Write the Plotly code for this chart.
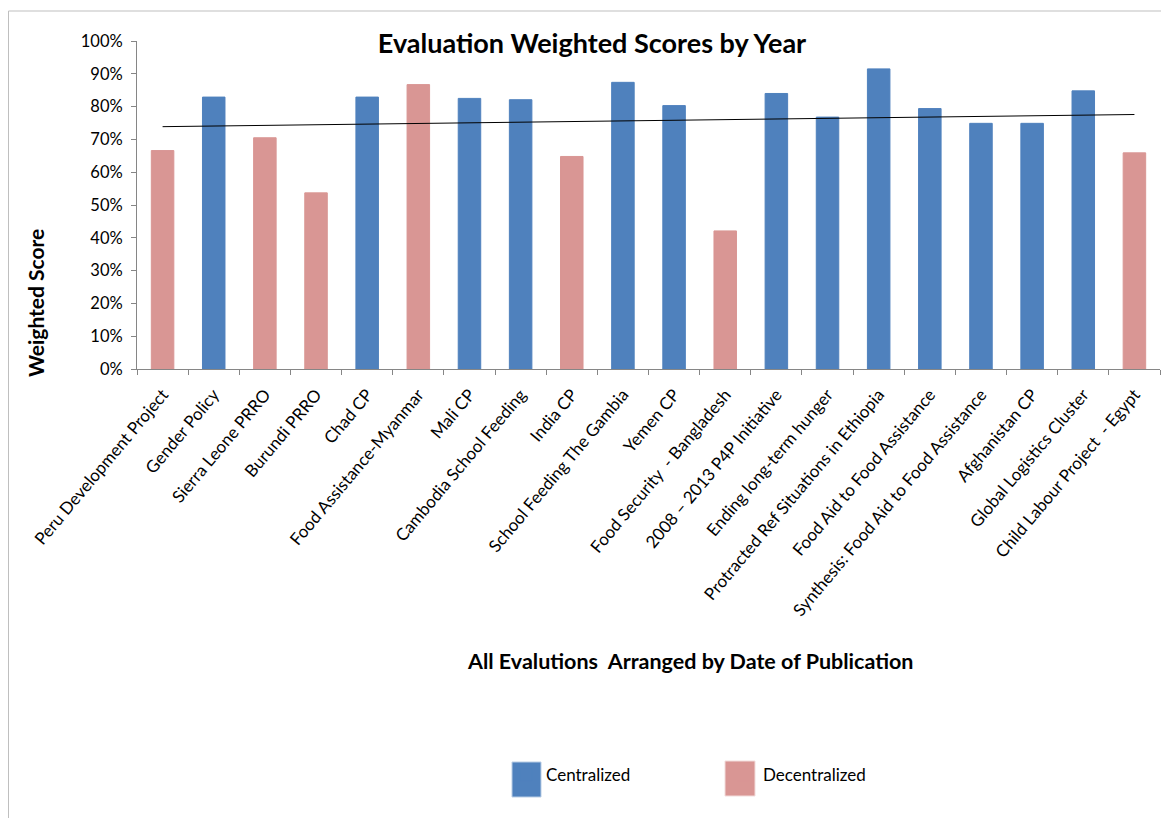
import numpy as np
import plotly.graph_objects as go

categories = [
    "Peru Development Project", "Gender Policy", "Sierra Leone PRRO", "Burundi PRRO",
    "Chad CP", "Food Assistance-Myanmar", "Mali CP", "Cambodia School Feeding",
    "India CP", "School Feeding The Gambia", "Yemen CP", "Food Security\u00a0 - Bangladesh",
    "2008 \u2013 2013 P4P Initiative", "Ending long-term hunger",
    "Protracted Ref Situations in Ethiopia", "Food Aid to Food Assistance",
    "Synthesis: Food Aid to Food Assistance", "Afghanistan CP",
    "Global Logistics Cluster", "Child Labour Project\u00a0 - Egypt",
]
scores = [0.666, 0.829, 0.705, 0.537, 0.829, 0.867, 0.825, 0.821, 0.648, 0.874,
          0.803, 0.421, 0.840, 0.768, 0.915, 0.794, 0.749, 0.749, 0.848, 0.659]
types = ["D", "C", "D", "D", "C", "D", "C", "C", "D", "C",
         "C", "D", "C", "C", "C", "C", "C", "C", "C", "D"]
series_names = ["Centralized", "Decentralized"]

BLUE = "#4F81BD"
PINK = "#D99694"
FONT = "Lato, 'Open Sans', sans-serif"

cent_vals = [v if t == "C" else None for v, t in zip(scores, types)]
dec_vals = [v if t == "D" else None for v, t in zip(scores, types)]

idx = np.arange(len(scores))
slope, intercept = np.polyfit(idx, scores, 1)
trend_x = [categories[0], categories[-1]]
trend_y = [intercept, intercept + slope * (len(scores) - 1)]

# page body has an 8px margin; figure coordinates = reference pixels - 8
W, H = 1161, 810
PL, PR, PT, PB = 137, 1160, 41, 369  # plot area in reference pixels


def px(x):
    return (x - PL) / (PR - PL)


def py(y):
    return (PB - y) / (PB - PT)


fig = go.Figure()
fig.add_trace(go.Bar(x=categories, y=cent_vals, name=series_names[0], width=0.44,
                     marker=dict(color=BLUE, line=dict(color=BLUE, width=1))))
fig.add_trace(go.Bar(x=categories, y=dec_vals, name=series_names[1], width=0.44,
                     marker=dict(color=PINK, line=dict(color=PINK, width=1))))
fig.add_trace(go.Scatter(x=trend_x, y=trend_y, mode="lines", showlegend=False,
                         line=dict(color="#000000", width=1), hoverinfo="skip"))

fig.update_layout(
    width=W, height=H,
    margin=dict(l=PL - 8, r=W - (PR - 8), t=PT - 8, b=H - (PB - 8)),
    paper_bgcolor="white", plot_bgcolor="white",
    barmode="overlay",
    font=dict(family=FONT, size=15, color="#000000"),
    title=dict(text="<b>Evaluation Weighted Scores by Year</b>",
               x=(592 - 8) / W, xref="container", xanchor="center",
               y=1 - (44 - 8) / H, yref="container", yanchor="middle",
               font=dict(family=FONT, size=27, color="#000000")),
    showlegend=True,
    legend=dict(orientation="h", x=px(506), xanchor="left",
                y=py(775), yanchor="middle", bgcolor="rgba(0,0,0,0)",
                entrywidth=172, entrywidthmode="pixels",
                font=dict(family=FONT, size=17), traceorder="normal"),
)
fig.update_xaxes(type="category", tickangle=-50, tickson="boundaries",
                 ticks="outside", ticklen=5, tickcolor="#868686",
                 showline=True, linecolor="#868686", linewidth=1,
                 showgrid=False, tickfont=dict(family=FONT, size=17),
                 ticklabelstandoff=8,
                 range=[-0.5, len(categories) - 0.5])
fig.update_yaxes(range=[0, 1], dtick=0.1, tickformat=".0%",
                 ticks="outside", ticklen=5, tickcolor="#868686",
                 showline=True, linecolor="#868686", linewidth=1,
                 showgrid=False, zeroline=False, ticklabelstandoff=5,
                 tickfont=dict(family=FONT, size=16.5))

fig.add_annotation(text="<b>Weighted Score</b>", xref="paper", yref="paper",
                   x=px(35), y=py(303), textangle=-90,
                   showarrow=False, font=dict(family=FONT, size=21, color="#000000"),
                   xanchor="center", yanchor="middle")
fig.add_annotation(text="<b>All Evalutions\u00a0 Arranged by Date of Publication</b>",
                   xref="paper", yref="paper",
                   x=px(690), y=py(661),
                   showarrow=False, font=dict(family=FONT, size=21.5, color="#000000"),
                   xanchor="center", yanchor="middle")

# larger legend swatches, as in the reference
for (x0, x1, y0, y1), col, edge in [((512, 541, 762, 797), BLUE, "#B9CDE5"),
                                    ((725, 755, 761, 796), PINK, "#F2DCDB")]:
    fig.add_shape(type="rect", xref="paper", yref="paper",
                  x0=px(x0), x1=px(x1), y0=py(y1), y1=py(y0),
                  fillcolor=col, line=dict(color=edge, width=1), layer="above")

# chart border (top and left edges visible in the reference)
fig.add_shape(type="line", xref="paper", yref="paper",
              x0=px(8.5), x1=px(1169), y0=py(11), y1=py(11),
              line=dict(color="#BFBFBF", width=1))
fig.add_shape(type="line", xref="paper", yref="paper",
              x0=px(8.5), x1=px(8.5), y0=py(11), y1=py(818),
              line=dict(color="#BFBFBF", width=1))

fig.write_html("out.html")
